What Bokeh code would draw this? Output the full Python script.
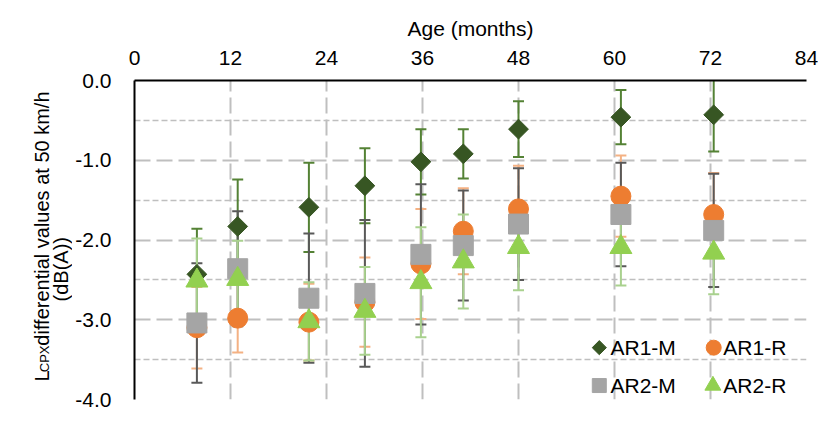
import math
from bokeh.plotting import figure
from bokeh.layouts import row
from bokeh.models import Range1d, FixedTicker, NumeralTickFormatter
from bokeh.core.properties import value
from bokeh.embed import file_html
from bokeh.resources import INLINE

# ---------------- data ----------------
months = [7.8, 12.9, 21.8, 28.8, 35.8, 41.1, 48.0, 60.8, 72.4]

ar1_m = [-2.43, -1.83, -1.59, -1.32, -1.02, -0.92, -0.61, -0.46, -0.43]
ar1_m_err = [0.57, 0.59, 0.56, 0.47, 0.41, 0.31, 0.35, 0.34, 0.46]

ar1_r = [-3.10, -2.98, -3.03, -2.78, -2.30, -1.89, -1.61, -1.45, -1.68]
ar1_r_err = [0.51, 0.43, 0.48, 0.56, 0.69, 0.54, 0.54, 0.51, 0.52]

ar2_m = [-3.04, -2.36, -2.73, -2.67, -2.18, -2.07, -1.80, -1.68, -1.88]
ar2_m_err = [0.75, 0.72, 0.81, 0.92, 0.88, 0.69, 0.70, 0.65, 0.71]

ar2_r = [-2.51, -2.49, -3.02, -2.89, -2.53, -2.27, -2.09, -2.09, -2.16]
ar2_r_err = [0.53, 0.48, 0.49, 0.55, 0.69, 0.59, 0.54, 0.48, 0.52]

series_names = ["AR1-M", "AR1-R", "AR2-M", "AR2-R"]
x_ticks = [0, 12, 24, 36, 48, 60, 72, 84]
y_ticks = [-4.0, -3.0, -2.0, -1.0, 0.0]
y_minor = [-3.5, -2.5, -1.5, -0.5]
x_title = "Age (months)"
y_title_main = "L"
y_title_sub = "CPX"
y_title_rest = "differential values at 50 km/h"
y_title_line2 = "(dB(A))"

# ---------------- styles ----------------
FONT = "Liberation Sans"
FS = "21px"
GRID = "#BFBFBF"

styles = [
    # marker, size, angle, fill, errcolor
    ("square", 14, math.pi / 4, "#375623", "#548235"),
    ("circle", 20, 0.0, "#ED7D31", "#F4B183"),
    ("square", 20, 0.0, "#A5A5A5", "#595959"),
    ("triangle", 22, 0.0, "#92D050", "#A9D18E"),
]
data = [(ar1_m, ar1_m_err), (ar1_r, ar1_r_err), (ar2_m, ar2_m_err), (ar2_r, ar2_r_err)]

LEFT_W = 72
TOP = 80
FRAME_H = 319
BOTTOM = 10
TOTAL_H = TOP + FRAME_H + BOTTOM

# ---------------- main chart ----------------
p = figure(
    frame_width=672, frame_height=FRAME_H,
    min_border_left=57, min_border_top=TOP, min_border_right=12, min_border_bottom=BOTTOM,
    x_range=Range1d(0, 84), y_range=Range1d(-4, 0),
    x_axis_location="above",
    output_backend="svg", toolbar_location=None,
)
p.outline_line_color = None
p.background_fill_color = "white"
p.border_fill_color = "white"

p.xaxis.ticker = FixedTicker(ticks=x_ticks)
p.yaxis.ticker = FixedTicker(ticks=y_ticks, minor_ticks=y_minor)
p.yaxis.formatter = NumeralTickFormatter(format="0.0")
for ax in (p.xaxis, p.yaxis):
    ax.axis_line_color = "#000000"
    ax.axis_line_width = 2
    ax.major_tick_line_color = None
    ax.minor_tick_line_color = None
    ax.major_tick_out = 0
    ax.major_tick_in = 0
    ax.major_label_text_font = FONT
    ax.major_label_text_font_size = FS
    ax.major_label_text_color = "#000000"
p.xaxis.major_label_standoff = 16
p.yaxis.major_label_standoff = 19
p.xaxis.axis_label = x_title
p.xaxis.axis_label_text_font = FONT
p.xaxis.axis_label_text_font_size = FS
p.xaxis.axis_label_text_font_style = "normal"
p.xaxis.axis_label_text_color = "#000000"
p.xaxis.axis_label_standoff = 8

p.xgrid.grid_line_color = GRID
p.xgrid.grid_line_width = 2
p.xgrid.grid_line_dash = "16 6"
p.ygrid.grid_line_color = GRID
p.ygrid.grid_line_width = 2
p.ygrid.grid_line_dash = "16 6"
p.ygrid.minor_grid_line_color = GRID
p.ygrid.minor_grid_line_width = 1.5
p.ygrid.minor_grid_line_dash = "6 3"

# error bars (all series first)
for (vals, errs), (mk, sz, ang, fill, ecol) in zip(data, styles):
    lo = [v - e for v, e in zip(vals, errs)]
    hi = [v + e for v, e in zip(vals, errs)]
    p.segment(x0=months, y0=lo, x1=months, y1=hi, line_color=ecol, line_width=2)
    p.scatter(x=months + months, y=lo + hi, marker="dash", size=11,
              line_color=ecol, line_width=2)

# markers
for (vals, errs), (mk, sz, ang, fill, ecol) in zip(data, styles):
    p.scatter(x=months, y=vals, marker=mk, size=sz, angle=ang,
              fill_color=fill, line_color=fill, line_width=1)

# legend drawn inside the frame (no box)
leg_marker_x = [58.1, 72.4, 58.1, 72.3]
leg_text_x = [59.5, 73.6, 59.5, 73.6]
leg_y = [-3.35, -3.35, -3.825, -3.825]
leg_sizes = [10, 15, 14, 16]
for i, (mk, sz, ang, fill, ecol) in enumerate(styles):
    p.scatter(x=[leg_marker_x[i]], y=[leg_y[i]], marker=mk, size=leg_sizes[i], angle=ang,
              fill_color=fill, line_color=fill)
    p.text(x=[leg_text_x[i]], y=[leg_y[i]], text=[series_names[i]],
           text_font=value(FONT), text_font_size=FS, text_color="#000000",
           text_align="left", text_baseline="middle")

# ---------------- y title panel (pixel coordinates, y downward) ----------------
t = figure(
    width=LEFT_W, height=TOTAL_H,
    x_range=Range1d(0, LEFT_W), y_range=Range1d(TOTAL_H, 0),
    x_axis_type=None, y_axis_type=None, min_border=0,
    output_backend="svg", toolbar_location=None,
)
t.outline_line_color = None
t.grid.visible = False
t.background_fill_color = "white"
t.border_fill_color = "white"

t.text(x=[41], y=[386], text=[y_title_main], angle=math.pi / 2,
       text_font=value(FONT), text_font_size="20px", text_color="#000000",
       text_align="left", text_baseline="alphabetic")
t.text(x=[44], y=[374], text=[y_title_sub], angle=math.pi / 2,
       text_font=value(FONT), text_font_size="13px", text_color="#000000",
       text_align="left", text_baseline="alphabetic")
t.text(x=[41], y=[340], text=[y_title_rest], angle=math.pi / 2,
       text_font=value(FONT), text_font_size="20px", text_color="#000000",
       text_align="left", text_baseline="alphabetic")
t.text(x=[60], y=[242], text=[y_title_line2], angle=math.pi / 2,
       text_font=value(FONT), text_font_size="20px", text_color="#000000",
       text_align="center", text_baseline="middle")

layout = row(t, p)
open("out.html", "w").write(file_html(layout, INLINE))
